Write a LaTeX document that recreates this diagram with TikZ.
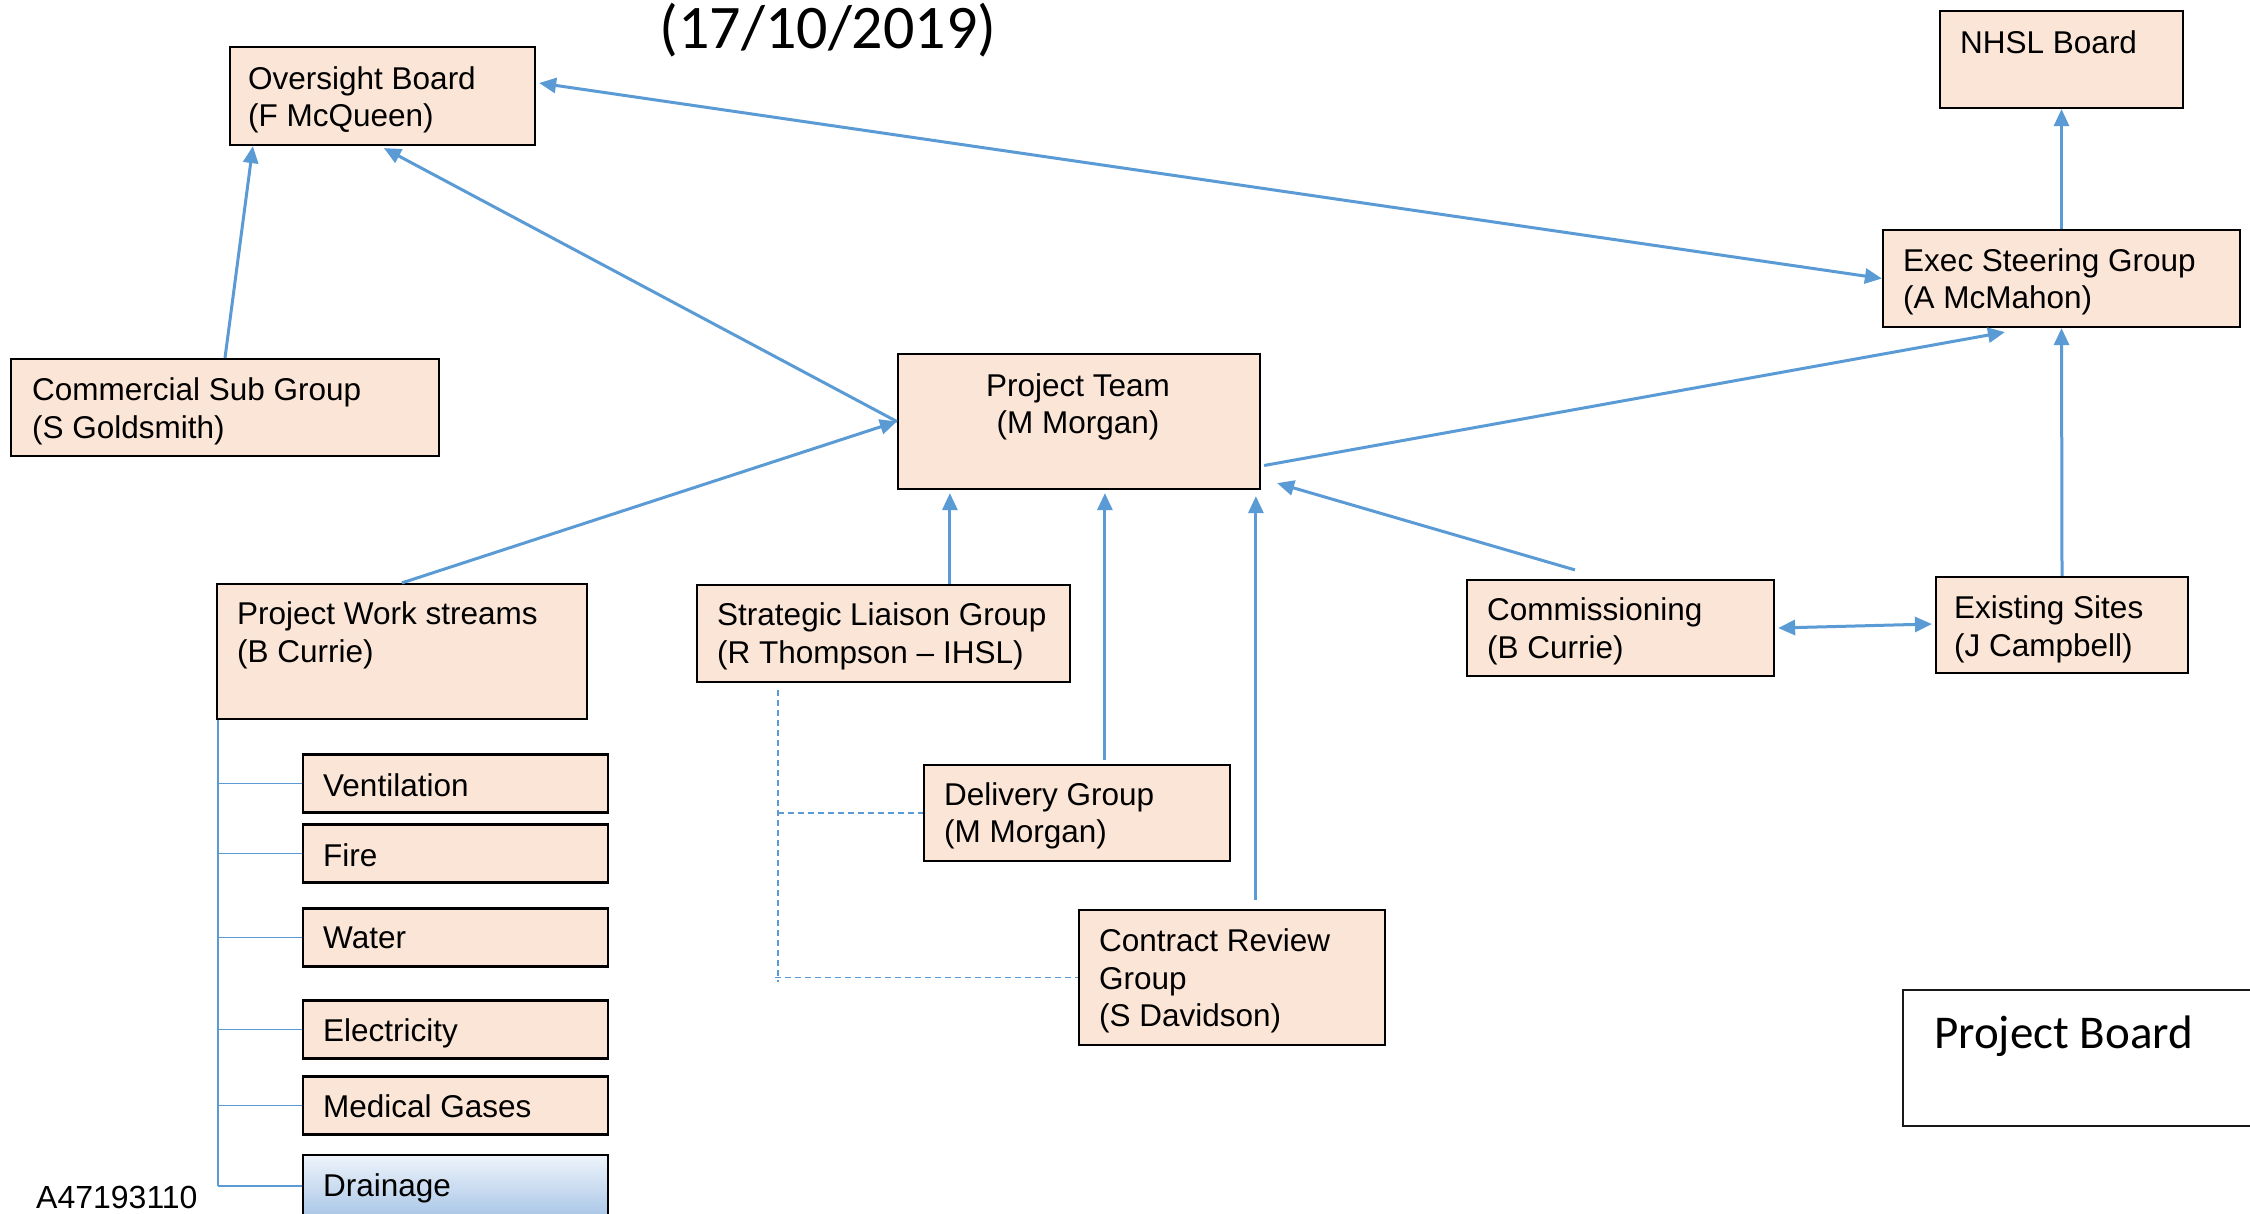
\documentclass[tikz,border=0pt]{standalone}
\usepackage{fontspec}
\setmainfont{Liberation Sans}
\newfontfamily\calib{Carlito}
\usetikzlibrary{arrows.meta}
\definecolor{peach}{HTML}{FBE5D6}
\definecolor{lblue}{HTML}{5B9BD5}
\definecolor{dtop}{HTML}{EEF4FB}
\definecolor{dbot}{HTML}{A9C6E7}
\begin{document}
\begin{tikzpicture}[x=1pt,y=-1pt,
  box/.style={draw=black,line width=2.2pt,fill=peach,inner sep=0pt,anchor=center},
  txt/.style={anchor=west,inner sep=0pt,align=left,font=\fontsize{31.5}{37.5}\selectfont},
  arr/.style={draw=lblue,line width=3pt,-{Triangle[length=17pt,width=15pt]}},
  darr/.style={draw=lblue,line width=3pt,{Triangle[length=17pt,width=15pt]}-{Triangle[length=17pt,width=15pt]}},
  tree/.style={draw=lblue,line width=1.6pt},
  dline/.style={draw=lblue,line width=1.5pt,dash pattern=on 6pt off 4pt}]
\useasboundingbox (0,0) rectangle (2250,1213);
\fill[white] (0,0) rectangle (2250,1213);

% title
\node[inner sep=0pt,font=\calib\fontsize{62}{70}\selectfont] (title) at (828,30) {(17/10/2019)};

% boxes
\node[box,minimum width=305pt,minimum height=98pt] (ob) at (382.5,96) {};
\node[box,minimum width=243pt,minimum height=97pt] (nh) at (2061.5,59.5) {};
\node[box,minimum width=357pt,minimum height=97pt] (ex) at (2061.5,278.5) {};
\node[box,minimum width=428pt,minimum height=97pt] (cs) at (225,407.5) {};
\node[box,minimum width=362pt,minimum height=135pt] (pt) at (1079,421.5) {};
\node[box,minimum width=370pt,minimum height=135pt] (wk) at (402,651.5) {};
\node[box,minimum width=373pt,minimum height=97pt] (st) at (883.5,633.5) {};
\node[box,minimum width=307pt,minimum height=96pt] (cm) at (1620.5,628) {};
\node[box,minimum width=252pt,minimum height=96pt] (es) at (2062,625) {};
\node[box,minimum width=306pt,minimum height=96pt] (dl) at (1077,813) {};
\node[box,minimum width=306pt,minimum height=135pt] (cr) at (1232,977.5) {};
\node[box,minimum width=305pt,minimum height=58pt] (ve) at (455.5,783.5) {};
\node[box,minimum width=305pt,minimum height=58pt] (fi) at (455.5,853.5) {};
\node[box,minimum width=305pt,minimum height=58pt] (wa) at (455.5,937.5) {};
\node[box,minimum width=305pt,minimum height=58pt] (el) at (455.5,1029.5) {};
\node[box,minimum width=305pt,minimum height=58pt] (mg) at (455.5,1105.5) {};
\node[box,top color=dtop,bottom color=dbot,minimum width=305pt,minimum height=62pt] (dr) at (455.5,1186) {};
\node[draw=black!90,line width=2pt,fill=white,inner sep=0pt,minimum width=357pt,minimum height=136pt] (pb) at (2081.5,1058) {};

% texts
\node[txt] (ob-t) at (248,100) {Oversight Board\\(F McQueen)};
\node[txt] (nh-t) at (1960,42) {NHSL Board};
\node[txt] (ex-t) at (1903,282) {Exec Steering Group\\(A McMahon)};
\node[txt] (cs-t) at (32,411.5) {Commercial Sub Group\\(S Goldsmith)};
\node[txt,anchor=center,align=center] (pt-t) at (1078,407) {Project Team\\(M Morgan)};
\node[txt] (wk-t) at (237,635.5) {Project Work streams\\(B Currie)};
\node[txt] (st-t) at (717,636.5) {Strategic Liaison Group\\(R Thompson -- IHSL)};
\node[txt] (cm-t) at (1487,631.5) {Commissioning\\(B Currie)};
\node[txt] (es-t) at (1954,629.5) {Existing Sites\\(J Campbell)};
\node[txt] (dl-t) at (944,816) {Delivery Group\\(M Morgan)};
\node[txt] (cr-t) at (1099,981) {Contract Review\\Group\\(S Davidson)};
\node[txt] (ve-t) at (323,785) {Ventilation};
\node[txt] (fi-t) at (323,855) {Fire};
\node[txt] (wa-t) at (323,938) {Water};
\node[txt] (el-t) at (323,1033) {Electricity};
\node[txt] (mg-t) at (323,1106) {Medical Gases};
\node[txt] (dr-t) at (323,1188) {Drainage};
\node[inner sep=0pt,anchor=base west,font=\calib\fontsize{47}{56}\selectfont] (pb-t) at (1934,1048) {Project Board};
\node[inner sep=0pt,anchor=base west,font=\fontsize{32}{38}\selectfont] (id) at (36,1208) {A47193110};

% connectors
\draw[arr] (cs.north) -- ([xshift=24pt]ob.south west);
\draw[arr] (pt.west) -- ([xshift=155pt,yshift=-2pt]ob.south west);
\draw[arr] ([xshift=186pt]wk.north west) -- (pt.west);
\draw[darr] (ex.west) -- ([xshift=3pt,yshift=13pt]ob.east);
\draw[arr] (ex.north) -- (nh.south);
\draw[arr] ([xshift=3pt,yshift=-44pt]pt.east) -- ([xshift=123pt,yshift=-4pt]ex.south west);
\draw[arr] (es.north) -- (ex.south);
\draw[arr] ([xshift=109pt,yshift=9pt]cm.north west) -- ([xshift=16pt,yshift=7pt]pt.south east);
\draw[darr] ([xshift=3pt]cm.east) -- ([xshift=-3pt,yshift=1pt]es.west);
\draw[arr] ([xshift=254pt]st.north west) -- ([xshift=254pt,yshift=-3pt]st.north west |- pt.south);
\draw[arr] ([xshift=182pt,yshift=4pt]dl.north west) -- ([xshift=182pt,yshift=-3pt]dl.north west |- pt.south);
\draw[arr] ([xshift=178pt,yshift=9pt]cr.north west) -- ([xshift=178pt,yshift=-6pt]cr.north west |- pt.south);

% dashed links
\coordinate (d0) at ([xshift=82pt,yshift=-7pt]st.south west);
\coordinate (d1) at ([yshift=-4pt]d0 |- cr.west);
\draw[dline] (d0) -- (d1);
\draw[dline] (d0 |- dl.west) -- (dl.west);
\draw[dline] ([xshift=-3pt]d0 |- cr.west) -- (cr.west);

% work stream tree
\coordinate (t0) at ([xshift=2pt]wk.south west);
\coordinate (t1) at (t0 |- dr.west);
\draw[tree] (t0) -- (t1);
\draw[tree] (t0 |- ve.west) -- (ve.west);
\draw[tree] (t0 |- fi.west) -- (fi.west);
\draw[tree] (t0 |- wa.west) -- (wa.west);
\draw[tree] (t0 |- el.west) -- (el.west);
\draw[tree] (t0 |- mg.west) -- (mg.west);
\draw[tree] (t1) -- (dr.west);
\end{tikzpicture}
\end{document}
